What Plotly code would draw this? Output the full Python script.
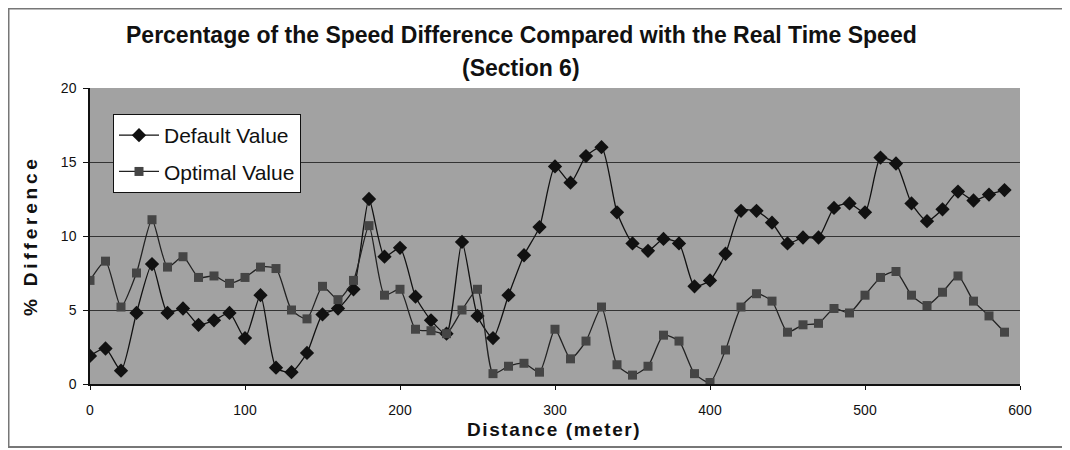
import plotly.graph_objects as go

distance = list(range(0, 600, 10))
default_value = [1.9, 2.4, 0.9, 4.8, 8.1, 4.8, 5.1, 4.0, 4.3, 4.8,
                 3.1, 6.0, 1.1, 0.8, 2.1, 4.7, 5.1, 6.4, 12.5, 8.6,
                 9.2, 5.9, 4.3, 3.4, 9.6, 4.6, 3.1, 6.0, 8.7, 10.6,
                 14.7, 13.6, 15.4, 16.0, 11.6, 9.5, 9.0, 9.8, 9.5, 6.6,
                 7.0, 8.8, 11.7, 11.7, 10.9, 9.5, 9.9, 9.9, 11.9, 12.2,
                 11.6, 15.3, 14.9, 12.2, 11.0, 11.8, 13.0, 12.4, 12.8, 13.1]
optimal_value = [7.0, 8.3, 5.2, 7.5, 11.1, 7.9, 8.6, 7.2, 7.3, 6.8,
                 7.2, 7.9, 7.8, 5.0, 4.4, 6.6, 5.7, 7.0, 10.7, 6.0,
                 6.4, 3.7, 3.6, 3.4, 5.0, 6.4, 0.7, 1.2, 1.4, 0.8,
                 3.7, 1.7, 2.9, 5.2, 1.3, 0.6, 1.2, 3.3, 2.9, 0.7,
                 0.1, 2.3, 5.2, 6.1, 5.6, 3.5, 4.0, 4.1, 5.1, 4.8,
                 6.0, 7.2, 7.6, 6.0, 5.3, 6.2, 7.3, 5.6, 4.6, 3.5]
x_ticks = [0, 100, 200, 300, 400, 500, 600]
y_ticks = [0, 5, 10, 15, 20]

FONT = "Liberation Sans, Arial, sans-serif"
OFF = 8  # page body margin offset
W, H = 1070, 450
# target plot area (screen pixels)
PX0, PX1, PY0, PY1 = 90, 1020, 88, 384
L = PX0 - OFF
T = PY0 - OFF
R = W - (PX1 - OFF)
B = H - (PY1 - OFF)
PW, PH = W - L - R, H - T - B


def px(xs):
    return (xs - OFF - L) / PW


def py(ys):
    return (H - B - (ys - OFF)) / PH


def spaced(s, sep="\u2009"):
    return sep.join(list(s))


fig = go.Figure()
fig.add_trace(go.Scatter(
    x=distance, y=default_value, name="Default Value", mode="lines+markers",
    legendgroup="a",
    line=dict(color="#111111", width=1.3, shape="spline", smoothing=0.6),
    marker=dict(symbol="diamond", size=11, color="#111111"),
))
fig.add_trace(go.Scatter(
    x=distance, y=optimal_value, name="Optimal Value", mode="lines+markers",
    legendgroup="b",
    line=dict(color="#222222", width=1.3, shape="spline", smoothing=0.6),
    marker=dict(symbol="square", size=9, color="#454545"),
))

fig.update_layout(
    width=W, height=H,
    margin=dict(l=L, r=R, t=T, b=B),
    paper_bgcolor="white",
    plot_bgcolor="#a2a2a2",
    font=dict(family=FONT, size=14, color="#111111"),
    showlegend=True,
    legend=dict(
        x=px(113), y=py(114), xanchor="left", yanchor="top",
        bgcolor="white", bordercolor="#111111", borderwidth=1,
        font=dict(family=FONT, size=21, color="#111111"),
        itemwidth=40, tracegroupgap=6,
    ),
    xaxis=dict(
        range=[0, 600], tickvals=x_ticks, showgrid=False, zeroline=False,
        showline=True, linecolor="#111111", linewidth=1.5,
        ticks="outside", ticklen=4, tickcolor="#111111",
        ticklabelstandoff=8,
        tickfont=dict(family=FONT, size=14, color="#111111"),
    ),
    yaxis=dict(
        range=[0, 20], tickvals=y_ticks, showgrid=True, gridcolor="#333333", gridwidth=1,
        zeroline=False, showline=True, linecolor="#111111", linewidth=1.5,
        ticks="outside", ticklen=5, tickcolor="#111111",
        ticklabelstandoff=4,
        tickfont=dict(family=FONT, size=14, color="#111111"),
    ),
    annotations=[
        dict(text="<b>Percentage of the Speed Difference Compared with the Real Time Speed</b>",
             x=px(521), y=py(35), xref="paper", yref="paper", showarrow=False,
             xanchor="center", yanchor="middle",
             font=dict(family=FONT, size=23, color="#111111")),
        dict(text="<b>(Section 6)</b>",
             x=px(521), y=py(68), xref="paper", yref="paper", showarrow=False,
             xanchor="center", yanchor="middle",
             font=dict(family=FONT, size=23, color="#111111")),
        dict(text="<b>" + spaced("Distance (meter)", "\u200a") + "</b>",
             x=px(553), y=py(429), xref="paper", yref="paper", showarrow=False,
             xanchor="center", yanchor="middle",
             font=dict(family=FONT, size=19, color="#111111")),
        dict(text="<b>" + spaced("% Difference") + "</b>", textangle=-90,
             x=px(30), y=py(238), xref="paper", yref="paper", showarrow=False,
             xanchor="center", yanchor="middle",
             font=dict(family=FONT, size=19, color="#111111")),
    ],
    shapes=[
        dict(type="rect", xref="paper", yref="paper",
             x0=px(8.5), x1=px(1071), y0=py(447), y1=py(8.5),
             line=dict(color="#777777", width=2), fillcolor="rgba(0,0,0,0)", layer="below"),
    ],
)

fig.write_html("out.html")
